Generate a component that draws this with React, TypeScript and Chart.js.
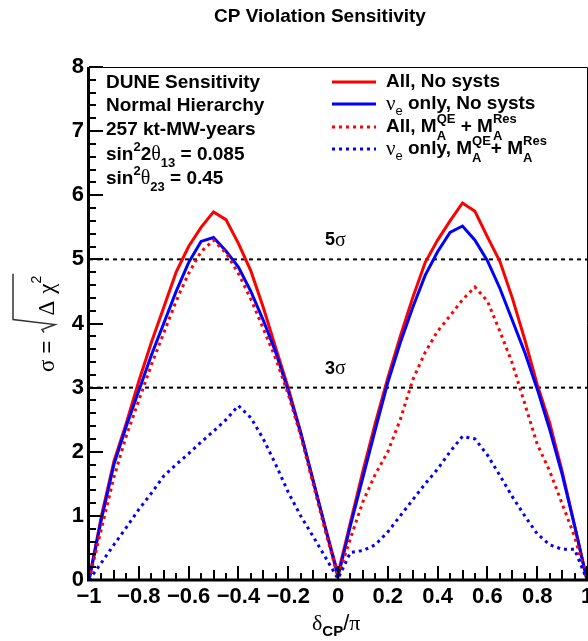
import React, { useEffect, useRef } from "react";
import { Chart, registerables } from "chart.js";

Chart.register(...registerables);

// ---- data ----
const deltaCP = [
  -1, -0.95, -0.9, -0.85, -0.8, -0.75, -0.7, -0.65, -0.6, -0.55, -0.5,
  -0.45, -0.4, -0.35, -0.3, -0.25, -0.2, -0.15, -0.1, -0.05, 0,
  0.05, 0.1, 0.15, 0.2, 0.25, 0.3, 0.35, 0.4, 0.45, 0.5,
  0.55, 0.6, 0.65, 0.7, 0.75, 0.8, 0.85, 0.9, 0.95, 1,
];
const allNoSysts = [
  0, 1.0, 1.85, 2.45, 3.1, 3.7, 4.25, 4.8, 5.2, 5.5, 5.74,
  5.62, 5.25, 4.82, 4.25, 3.62, 3.0, 2.3, 1.55, 0.8, 0.1,
  0.9, 1.7, 2.45, 3.15, 3.8, 4.4, 4.95, 5.3, 5.6, 5.88,
  5.75, 5.35, 4.97, 4.4, 3.75, 3.05, 2.45, 1.7, 0.85, 0,
];
const nueNoSysts = [
  0, 0.95, 1.8, 2.4, 2.95, 3.5, 4.0, 4.5, 4.95, 5.28, 5.34,
  5.13, 4.88, 4.5, 4.05, 3.55, 2.95, 2.3, 1.55, 0.8, 0.05,
  0.85, 1.6, 2.35, 3.08, 3.7, 4.25, 4.75, 5.12, 5.42, 5.52,
  5.3, 4.98, 4.55, 4.05, 3.55, 2.98, 2.35, 1.65, 0.85, 0,
];
const allMA = [
  0, 0.8, 1.6, 2.25, 2.8, 3.35, 3.85, 4.35, 4.78, 5.12, 5.3,
  5.1, 4.78, 4.38, 3.92, 3.45, 2.9, 2.25, 1.5, 0.75, 0.05,
  0.65, 1.22, 1.65, 2.0, 2.5, 3.12, 3.55, 3.88, 4.12, 4.37,
  4.57, 4.35, 3.88, 3.38, 2.75, 2.12, 1.7, 1.19, 0.68, 0,
];
const nueMA = [
  0, 0.27, 0.55, 0.82, 1.1, 1.35, 1.62, 1.8, 1.97, 2.15, 2.32,
  2.5, 2.72, 2.53, 2.2, 1.8, 1.37, 1.0, 0.68, 0.35, 0.02,
  0.43, 0.46, 0.55, 0.75, 1.0, 1.25, 1.5, 1.73, 2.0, 2.24,
  2.2, 1.95, 1.63, 1.3, 1.0, 0.72, 0.55, 0.48, 0.48, 0,
];
const sigmaLevels = [3, 5];
const sigmaNames = ["3", "5"];
const yTicks = [0, 1, 2, 3, 4, 5, 6, 7, 8];
const xTicks = [-1, -0.8, -0.6, -0.4, -0.2, 0, 0.2, 0.4, 0.6, 0.8, 1];
const xTickLabels = ["\u22121", "\u22120.8", "\u22120.6", "\u22120.4", "\u22120.2", "0", "0.2", "0.4", "0.6", "0.8", "1"];
const infoLines = ["DUNE Sensitivity", "Normal Hierarchy", "257 kt-MW-years"];

// ---- fonts ----
const B = (s: number) => `bold ${s}px "Liberation Sans", Arial, Helvetica, sans-serif`;
const R = (s: number) => `${s}px "Liberation Sans", Arial, Helvetica, sans-serif`;
const G = (s: number) => `${s}px "Liberation Serif", "DejaVu Serif", serif`;

type Seg =
  | { t: string; f: string; dy?: number }
  | { sup: string; sub: string; f: string; up: number; down: number };

function drawRich(ctx: CanvasRenderingContext2D, segs: Seg[], x: number, y: number) {
  let cx = x;
  ctx.textBaseline = "middle";
  ctx.textAlign = "left";
  for (const s of segs as any[]) {
    ctx.font = s.f;
    if (s.sup !== undefined) {
      ctx.fillText(s.sup, cx, y + s.up);
      ctx.fillText(s.sub, cx, y + s.down);
      cx += Math.max(ctx.measureText(s.sup).width, ctx.measureText(s.sub).width);
    } else {
      ctx.fillText(s.t, cx, y + (s.dy || 0));
      cx += ctx.measureText(s.t).width;
    }
  }
  return cx;
}

const rootStyle = {
  id: "rootStyle",
  afterDraw(chart: any) {
    const { ctx, chartArea: a } = chart;
    const xs = chart.scales.x;
    const ys = chart.scales.y;
    ctx.save();
    ctx.fillStyle = "#000";
    ctx.strokeStyle = "#000";

    // thin top / right frame
    ctx.lineWidth = 1;
    ctx.beginPath();
    ctx.moveTo(a.left, a.top + 0.5);
    ctx.lineTo(a.right + 0.5, a.top + 0.5);
    ctx.lineTo(a.right + 0.5, a.bottom);
    ctx.stroke();

    // thick axes
    ctx.lineWidth = 3;
    ctx.beginPath();
    ctx.moveTo(a.left - 0.5, a.top);
    ctx.lineTo(a.left - 0.5, a.bottom);
    ctx.lineTo(a.right + 1, a.bottom);
    ctx.stroke();

    // y ticks
    ctx.lineWidth = 2;
    for (let i = 0; i <= 40; i++) {
      const v = i / 5;
      const py = Math.round(ys.getPixelForValue(v));
      const len = i % 5 === 0 ? 14 : 7;
      ctx.beginPath();
      ctx.moveTo(a.left, py);
      ctx.lineTo(a.left + len, py);
      ctx.stroke();
    }
    // x ticks
    for (let i = 0; i <= 40; i++) {
      const v = -1 + i * 0.05;
      const px = Math.round(xs.getPixelForValue(v));
      const len = i % 4 === 0 ? 14 : i % 2 === 0 ? 10 : 7;
      ctx.beginPath();
      ctx.moveTo(px, a.bottom);
      ctx.lineTo(px, a.bottom - len);
      ctx.stroke();
    }

    // tick labels
    ctx.font = B(22);
    ctx.textBaseline = "middle";
    ctx.textAlign = "right";
    yTicks.forEach((v) => ctx.fillText(String(v), 84, ys.getPixelForValue(v)));
    ctx.textAlign = "center";
    xTicks.forEach((v, i) => ctx.fillText(xTickLabels[i], xs.getPixelForValue(v), 597));

    // title
    ctx.font = B(19);
    ctx.textAlign = "center";
    ctx.fillText("CP Violation Sensitivity", 320, 17);

    // info text block
    const lineY = [83, 106, 130, 155, 179];
    ctx.textAlign = "left";
    infoLines.forEach((t, i) => drawRich(ctx, [{ t, f: B(19) }], 106, lineY[i]));
    drawRich(ctx, [
      { t: "sin", f: B(19) }, { t: "2", f: B(13), dy: -8 }, { t: "2", f: B(19) },
      { t: "\u03B8", f: G(20) }, { t: "13", f: B(13), dy: 8 }, { t: " = 0.085", f: B(19) },
    ], 106, lineY[3]);
    drawRich(ctx, [
      { t: "sin", f: B(19) }, { t: "2", f: B(13), dy: -8 },
      { t: "\u03B8", f: G(20) }, { t: "23", f: B(13), dy: 8 }, { t: " = 0.45", f: B(19) },
    ], 106, lineY[4]);

    // legend
    const ds = chart.data.datasets;
    const rows = [82, 104, 127, 149];
    const legendSegs: Seg[][] = [
      [{ t: "All, No systs", f: B(19) }],
      [{ t: "\u03BD", f: G(21) }, { t: "e", f: R(13), dy: 7 }, { t: " only, No systs", f: B(19) }],
      [{ t: "All, M", f: B(19) }, { sup: "QE", sub: "A", f: B(13), up: -8, down: 9 },
       { t: " + M", f: B(19) }, { sup: "Res", sub: "A", f: B(13), up: -8, down: 9 }],
      [{ t: "\u03BD", f: G(21) }, { t: "e", f: R(13), dy: 7 }, { t: " only, M", f: B(19) },
       { sup: "QE", sub: "A", f: B(13), up: -8, down: 9 }, { t: "+ M", f: B(19) },
       { sup: "Res", sub: "A", f: B(13), up: -8, down: 9 }],
    ];
    for (let i = 0; i < 4; i++) {
      const d = ds[i];
      ctx.save();
      ctx.strokeStyle = d.borderColor;
      ctx.lineWidth = d.borderWidth;
      ctx.setLineDash(d.borderDash || []);
      ctx.beginPath();
      ctx.moveTo(332, rows[i]);
      ctx.lineTo(376, rows[i]);
      ctx.stroke();
      ctx.restore();
      drawRich(ctx, legendSegs[i], 386, rows[i]);
    }

    // sigma labels
    sigmaLevels.forEach((lvl, i) => {
      drawRich(ctx, [{ t: sigmaNames[i], f: B(18) }, { t: "\u03C3", f: G(20) }], 325, ys.getPixelForValue(lvl) - 19);
    });

    // x axis title
    drawRich(ctx, [
      { t: "\u03B4", f: G(22) }, { t: "CP", f: B(15), dy: 8 }, { t: "/", f: R(22) }, { t: "\u03C0", f: G(22) },
    ], 312, 624);

    // y axis title (rotated)
    ctx.save();
    ctx.translate(54, 372);
    ctx.rotate(-Math.PI / 2);
    ctx.textBaseline = "alphabetic";
    ctx.textAlign = "left";
    let u = 0;
    ctx.font = G(23);
    ctx.fillText("\u03C3", u, 0);
    u += ctx.measureText("\u03C3").width;
    ctx.font = R(22);
    ctx.fillText(" = ", u, 0);
    u += ctx.measureText(" = ").width + 2;
    const textStart = u + 17;
    ctx.font = G(23);
    const wDelta = ctx.measureText("\u0394").width;
    const wChi = ctx.measureText("\u03C7").width;
    ctx.font = R(14);
    const wTwo = ctx.measureText("2").width;
    const endU = textStart + wDelta + 7 + wChi + wTwo + 2;
    ctx.strokeStyle = "#333";
    ctx.lineWidth = 1.5;
    ctx.beginPath();
    ctx.moveTo(u, -10);
    ctx.lineTo(u + 3, -12);
    ctx.lineTo(u + 8, 1);
    ctx.lineTo(u + 13, -41);
    ctx.lineTo(endU, -41);
    ctx.stroke();
    ctx.fillStyle = "#000";
    ctx.font = G(23);
    ctx.fillText("\u0394", textStart, 0);
    ctx.fillText("\u03C7", textStart + wDelta + 7, 0);
    ctx.font = R(14);
    ctx.fillText("2", textStart + wDelta + 7 + wChi, -13);
    ctx.restore();

    ctx.restore();
  },
};

export default function App() {
  const ref = useRef<HTMLCanvasElement>(null);
  useEffect(() => {
    const pts = (vals: number[]) => deltaCP.map((x, i) => ({ x, y: vals[i] }));
    const sigmaSets = sigmaLevels.map((lvl) => ({
      label: `${lvl} sigma`,
      data: [{ x: xTicks[0], y: lvl }, { x: xTicks[xTicks.length - 1], y: lvl }],
      borderColor: "#000",
      borderWidth: 2,
      borderDash: [4, 4],
      order: 5,
    }));
    const chart = new Chart(ref.current as HTMLCanvasElement, {
      type: "line",
      data: {
        datasets: [
          { label: "All, No systs", data: pts(allNoSysts), borderColor: "#ff0000", borderWidth: 3, order: 4 },
          { label: "nue only, No systs", data: pts(nueNoSysts), borderColor: "#0000ff", borderWidth: 3, order: 3 },
          { label: "All, MA", data: pts(allMA), borderColor: "#ff0000", borderWidth: 3, borderDash: [3, 4], order: 2 },
          { label: "nue only, MA", data: pts(nueMA), borderColor: "#0000ff", borderWidth: 3, borderDash: [3, 4], order: 1 },
          ...sigmaSets,
        ] as any,
      },
      options: {
        responsive: false,
        animation: false,
        devicePixelRatio: 1,
        events: [],
        layout: { padding: { left: 89, top: 67, right: 1, bottom: 61 } },
        scales: {
          x: { type: "linear", min: -1, max: 1, display: false },
          y: { type: "linear", min: 0, max: 8, display: false },
        },
        elements: { point: { radius: 0 }, line: { tension: 0, fill: false } },
        plugins: { legend: { display: false }, title: { display: false }, tooltip: { enabled: false } },
      } as any,
      plugins: [rootStyle],
    });
    return () => chart.destroy();
  }, []);
  return (
    <canvas
      ref={ref}
      width={588}
      height={641}
      style={{ position: "absolute", left: 0, top: 0, width: 588, height: 641, background: "#fff" }}
    />
  );
}
